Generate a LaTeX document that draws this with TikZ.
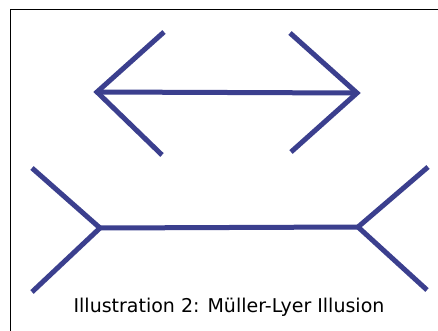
\documentclass[tikz,border=0pt]{standalone}
\usepackage{fontspec}
\setmainfont{DejaVu Sans}
\usetikzlibrary{positioning}
\definecolor{mlblue}{HTML}{3B3F8E}

\begin{document}
\begin{tikzpicture}[x=1pt, y=-1pt,
  fin/.style={draw=mlblue, line width=5pt, line join=miter, line cap=butt},
  shaft/.style={draw=mlblue, line width=5pt},
  frame/.style={draw=black, line width=1pt},
  caption/.style={font=\fontsize{19}{22}\selectfont, text=black},
]
  \useasboundingbox (0,0) rectangle (438,331);
  \path[fill=white] (0,0) rectangle (438,331);
  % frame (top and left only)
  \coordinate (corner) at (10,10);
  \coordinate (topend) at (438,10);
  \coordinate (leftend) at (10,331);
  \draw[frame] (topend) -- (corner) -- (leftend);

  % upper figure: fins pointing outwards
  \coordinate (ua) at (97,92);
  \coordinate (ub) at (357,93);
  \coordinate (ua1) at (164,32);
  \coordinate (ua2) at (162,155);
  \coordinate (ub1) at (290,33);
  \coordinate (ub2) at (291,152);
  \draw[fin] (ua1) -- (ua) -- (ua2);
  \draw[fin] (ub1) -- (ub) -- (ub2);
  \draw[shaft] (ua) -- (ub);

  % lower figure: fins pointing inwards
  \coordinate (la) at (100,228);
  \coordinate (lb) at (358,227);
  \coordinate (la1) at (32,168);
  \coordinate (la2) at (32,292);
  \coordinate (lb1) at (428,167);
  \coordinate (lb2) at (427,290);
  \draw[fin] (la1) -- (la) -- (la2);
  \draw[fin] (lb1) -- (lb) -- (lb2);
  \draw[shaft] (la) -- (lb);

  \node[caption] (cap) at (229,307) {Illustration 2: Müller-Lyer Illusion};
\end{tikzpicture}
\end{document}
